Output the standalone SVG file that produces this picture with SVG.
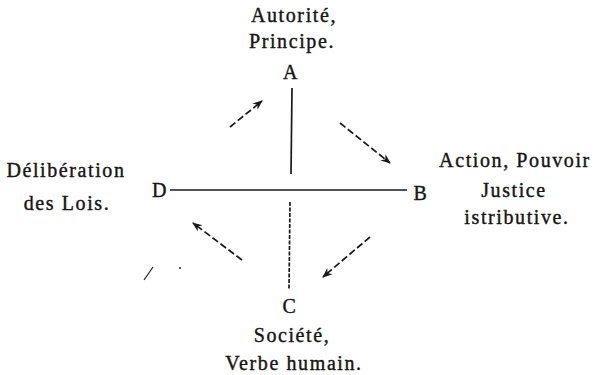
<svg xmlns="http://www.w3.org/2000/svg" width="595" height="375" viewBox="0 0 595 375">
<defs>
<style>
.t{font-family:"Liberation Serif","Times New Roman",serif;font-size:20px;letter-spacing:1.6px;fill:#151515;stroke:#151515;stroke-width:0.4;text-anchor:middle}
.ln{stroke:#1a1a1a;stroke-width:1.7;fill:none}
.ar{stroke:#1a1a1a;stroke-width:1.7;fill:none;stroke-dasharray:7 3;marker-end:url(#ah)}
</style>
<marker id="ah" viewBox="0 0 10 10" refX="9" refY="5" markerWidth="10" markerHeight="10" orient="auto" markerUnits="userSpaceOnUse">
<path d="M0,1 L10,5 L0,9 L3,5 Z" fill="#1a1a1a"/>
</marker>
</defs>
<rect width="595" height="375" fill="#fff"/>
<g id="node-A">
<text class="t" x="294" y="22">Autorité,</text>
<text class="t" x="292" y="48">Principe.</text>
<text class="t" x="291" y="79">A</text>
</g>
<g id="node-D">
<text class="t" x="66" y="177">Délibération</text>
<text class="t" x="67" y="210">des Lois.</text>
<text class="t" x="160" y="197">D</text>
</g>
<g id="node-B">
<text class="t" x="421" y="200">B</text>
<text class="t" x="515" y="167">Action, Pouvoir</text>
<text class="t" x="514" y="197">Justice</text>
<text class="t" x="517" y="224">istributive.</text>
</g>
<g id="node-C">
<text class="t" x="290" y="313">C</text>
<text class="t" x="292" y="342">Société,</text>
<text class="t" x="294" y="370">Verbe humain.</text>
</g>
<g id="connectors">
<line class="ln" x1="292" y1="88" x2="291" y2="174"/>
<line class="ln" x1="290" y1="202" x2="289" y2="290" stroke-dasharray="4 1.5"/>
<line class="ln" x1="170" y1="190" x2="407" y2="190"/>
<line class="ar" x1="230" y1="127" x2="262" y2="101"/>
<line class="ar" x1="340" y1="123" x2="390" y2="163"/>
<line class="ar" x1="370" y1="237" x2="323" y2="277"/>
<line class="ar" x1="242" y1="260" x2="193" y2="223"/>
</g>
<line x1="144" y1="280" x2="153" y2="267" stroke="#1a1a1a" stroke-width="1.2"/>
<circle cx="180" cy="268" r="1" fill="#1a1a1a"/>
</svg>
